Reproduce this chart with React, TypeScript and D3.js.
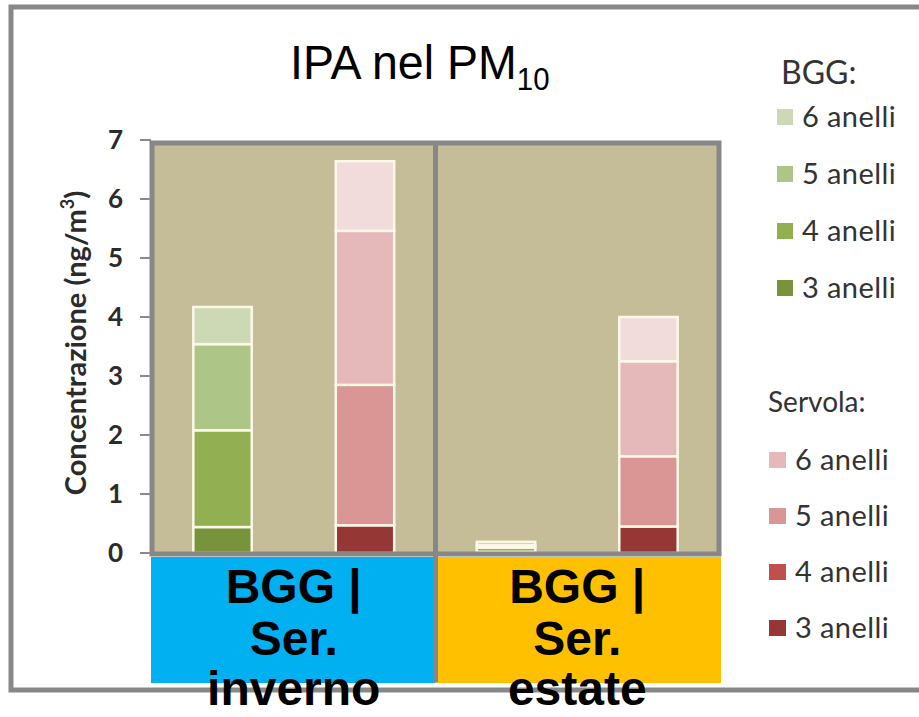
import React from "react";
import * as d3 from "d3";

// data
const seasons = ["inverno", "estate"];
const stations = ["BGG", "Servola"];
const rings = ["3 anelli", "4 anelli", "5 anelli", "6 anelli"];
const bggInverno = [0.44, 1.64, 1.46, 0.63];
const bggEstate = [0.02, 0.07, 0.04, 0.06];
const servolaInverno = [0.47, 2.38, 2.61, 1.18];
const servolaEstate = [0.45, 1.19, 1.61, 0.75];
const yTicks = [0, 1, 2, 3, 4, 5, 6, 7];

const bggColors = ["#77933c", "#92b052", "#aec588", "#cdd9b4"];
const servolaBarColors = ["#953735", "#d99694", "#e5b8b9", "#f2dcdb"];
const servolaLegendColors = ["#953735", "#c0504d", "#d99694", "#e6b9b8"];
const seasonColors = ["#00b0f0", "#ffc000"];

const W = 919;
const H = 717;
const plotL = 152;
const plotR = 719;
const plotT = 143;
const plotB = 554;

export default function App() {
  const y = d3.scaleLinear().domain([0, 7]).range([553, 140]);
  const xSeason = d3.scaleBand().domain(seasons).range([plotL, plotR]);
  const xStation = d3
    .scaleBand()
    .domain(stations)
    .range([0, xSeason.bandwidth()])
    .paddingInner(0.59)
    .paddingOuter(0.29);

  const rows = [
    { season: "inverno", station: "BGG", vals: bggInverno },
    { season: "inverno", station: "Servola", vals: servolaInverno },
    { season: "estate", station: "BGG", vals: bggEstate },
    { season: "estate", station: "Servola", vals: servolaEstate },
  ].map((r) => {
    const o: any = { season: r.season, station: r.station };
    rings.forEach((k, i) => (o[k] = r.vals[i]));
    return o;
  });
  const series = d3.stack().keys(rings)(rows as any);

  const legendBgg = d3.scalePoint().domain([...rings].reverse()).range([117, 288]);
  const legendSer = d3.scalePoint().domain([...rings].reverse()).range([460, 628]);
  const divX = xSeason("estate")!;

  return (
    <svg
      width={W}
      height={H}
      style={{ position: "absolute", left: 0, top: 0, background: "#fff" }}
    >
      {/* outer frame */}
      <rect x={11} y={7} width={940} height={683} fill="#fff" stroke="#888" strokeWidth={5} />

      {/* title */}
      <text
        transform="translate(290,79) scale(0.95,1)"
        fontFamily="Liberation Sans, Arial, sans-serif"
        fontSize={49}
        fill="#000"
      >
        IPA nel PM
        <tspan fontSize={31} dy={11}>10</tspan>
      </text>

      {/* plot background */}
      <rect x={plotL} y={plotT} width={plotR - plotL} height={plotB - plotT} fill="#c4bd97" />

      {/* bars */}
      {series.map((s, i) =>
        s.map((d, j) => {
          const row: any = d.data;
          const colors = row.station === "BGG" ? bggColors : servolaBarColors;
          const x0 = xSeason(row.season)! + xStation(row.station)!;
          return (
            <rect
              key={i + "-" + j}
              x={x0}
              y={y(d[1])}
              width={xStation.bandwidth()}
              height={Math.max(0, y(d[0]) - y(d[1]))}
              fill={colors[i]}
              stroke="#fbf8e8"
              strokeWidth={2.5}
            />
          );
        })
      )}

      {/* plot border and divider */}
      <rect
        x={plotL}
        y={plotT}
        width={plotR - plotL}
        height={plotB - plotT}
        fill="none"
        stroke="#878787"
        strokeWidth={5}
      />

      {/* season blocks */}
      {seasons.map((s, i) => (
        <rect
          key={s}
          x={i === 0 ? xSeason(s)! - 1 : xSeason(s)!}
          y={557}
          width={xSeason.bandwidth() + 2}
          height={126}
          fill={seasonColors[i]}
        />
      ))}
      <line x1={divX} x2={divX} y1={plotT} y2={682} stroke="#878787" strokeWidth={5} />

      {/* y axis */}
      {yTicks.map((t) => (
        <g key={t}>
          <line x1={140} x2={151} y1={y(t)} y2={y(t)} stroke="#8a8a8a" strokeWidth={2} />
          <text
            x={123}
            y={y(t)}
            dy="0.36em"
            textAnchor="end"
            fontFamily="Lato, sans-serif"
            fontWeight="bold"
            fontSize={26}
            fill="#2b2b2b"
          >
            {t}
          </text>
        </g>
      ))}
      <text
        transform="translate(86,343) rotate(-90)"
        textAnchor="middle"
        fontFamily="Lato, sans-serif"
        fontWeight="bold"
        fontSize={29}
        fill="#2b2b2b"
      >
        Concentrazione (ng/m
        <tspan fontSize={18} dy={-12}>3</tspan>
        <tspan dy={12}>)</tspan>
      </text>

      {/* legend */}
      <text x={781} y={84} fontFamily="Lato, sans-serif" fontSize={32} fill="#333">
        BGG:
      </text>
      {rings.map((r, i) => (
        <g key={"b" + r} transform={`translate(0,${legendBgg(r)})`}>
          <rect x={777} y={-8} width={16} height={16} fill={bggColors[i]} />
          <text
            x={802}
            y={0}
            dy="0.36em"
            fontFamily="Lato, sans-serif"
            fontSize={29}
            letterSpacing={0.4}
            fill="#333"
          >
            {r}
          </text>
        </g>
      ))}
      <text x={768} y={412} fontFamily="Lato, sans-serif" fontSize={28} fill="#333">
        Servola:
      </text>
      {rings.map((r, i) => (
        <g key={"s" + r} transform={`translate(0,${legendSer(r)})`}>
          <rect x={769} y={-8} width={17} height={16} fill={servolaLegendColors[i]} />
          <text
            x={795}
            y={0}
            dy="0.36em"
            fontFamily="Lato, sans-serif"
            fontSize={29}
            letterSpacing={0.4}
            fill="#333"
          >
            {r}
          </text>
        </g>
      ))}

      {/* category labels */}
      {seasons.map((s) => {
        const cx = xSeason(s)! + xSeason.bandwidth() / 2;
        return (
          <text
            key={"l" + s}
            textAnchor="middle"
            fontFamily="Liberation Sans, Arial, sans-serif"
            fontWeight="bold"
            fontSize={48}
            fill="#000"
          >
            <tspan x={cx} y={603}>BGG |</tspan>
            <tspan x={cx} y={655}>Ser.</tspan>
            <tspan x={cx} y={705}>{s}</tspan>
          </text>
        );
      })}
    </svg>
  );
}
